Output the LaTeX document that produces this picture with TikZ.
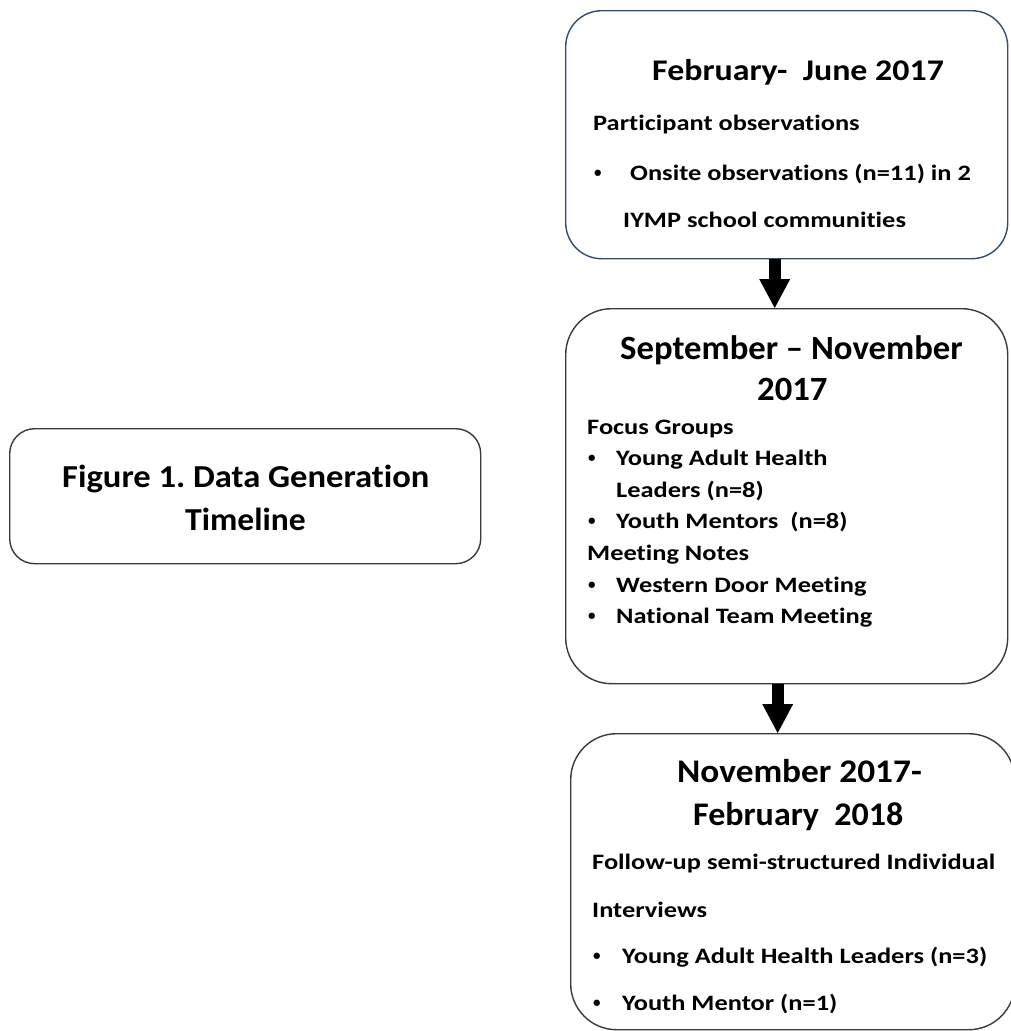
\documentclass[tikz,border=0pt]{standalone}
\usepackage{fontspec}
\setmainfont{Carlito}[RawFeature=-liga]
\usepackage{graphicx}
\usetikzlibrary{positioning,arrows.meta,calc}
\usepackage{xcolor}
\definecolor{navyline}{HTML}{3A4A6B}
\definecolor{darkline}{HTML}{3A3A3A}
\frenchspacing
% Word set the text a little wider than Carlito
\newcommand{\wider}[2]{\scalebox{#1}[1]{#2}}
\newcommand{\dotmark}{\raisebox{3pt}{\fontsize{15}{15}\selectfont •}}

\begin{document}
\begin{tikzpicture}[x=1pt,y=-1pt,
  stagebox/.style={draw=darkline,line width=1.4pt,inner sep=0pt,anchor=north west},
  fatarrow/.style={line width=12pt,-{Triangle[width=31pt,length=29pt,line width=0pt]}},
  hd/.style={anchor=base west,inner sep=0pt,font=\bfseries\fontsize{#1}{#1}\selectfont},
  tx/.style={anchor=base west,inner sep=0pt,font=\bfseries\fontsize{22}{22}\selectfont}]
\useasboundingbox (0,0) rectangle (1010,1031);
% boxes
\node (lbox) [stagebox,rounded corners=25pt,minimum width=471pt,minimum height=135pt] at (9,428) {};
\node (box1) [stagebox,draw=navyline,rounded corners=36pt,minimum width=442pt,minimum height=248pt] at (565,10) {};
\node (box2) [stagebox,rounded corners=46pt,minimum width=442pt,minimum height=375pt] at (565,308) {};
\node (box3) [stagebox,rounded corners=46pt,minimum width=444pt,minimum height=296pt] at (570,733) {};
% arrows
\draw[fatarrow] ([xshift=-12pt]box1.south) -- ([xshift=-12pt]box1.south |- box2.north);
\draw[fatarrow] ([xshift=-9pt]box2.south) -- ([xshift=-9pt]box2.south |- box3.north);
% figure title
\node (fig1) [hd=32] at (62,487) {\wider{1.08}{Figure 1. Data Generation}};
\node (fig2) [hd=32] at (185,530) {\wider{1.05}{Timeline}};
% first stage
\node (p1) [hd=30] at (652,80) {\wider{1.13}{February-\ \ June 2017}};
\node (p2) [tx] at (593,130) {\wider{1.2}{Participant observations}};
\node (p3b) [tx] at (594,180) {\dotmark};
\node (p3) [tx] at (630,180) {\wider{1.2}{Onsite observations (n=11) in 2}};
\node (p4) [tx] at (623,227) {\wider{1.2}{IYMP school communities}};
% second stage
\node (s1) [hd=34] at (620,359) {\wider{1.02}{September – November}};
\node (s2) [hd=34] at (757,400) {\wider{1.02}{2017}};
\node (s3) [tx] at (587,434) {\wider{1.2}{Focus Groups}};
\node (s4b) [tx] at (588,465) {\dotmark};
\node (s4) [tx] at (616,465) {\wider{1.2}{Young Adult Health}};
\node (s5) [tx] at (616,497) {\wider{1.2}{Leaders (n=8)}};
\node (s6b) [tx] at (588,528) {\dotmark};
\node (s6) [tx] at (616,528) {\wider{1.2}{Youth Mentors\ \ (n=8)}};
\node (s7) [tx] at (587,560) {\wider{1.2}{Meeting Notes}};
\node (s8b) [tx] at (588,592) {\dotmark};
\node (s8) [tx] at (616,592) {\wider{1.2}{Western Door Meeting}};
\node (s9b) [tx] at (588,623) {\dotmark};
\node (s9) [tx] at (616,623) {\wider{1.2}{National Team Meeting}};
% third stage
\node (n1) [hd=33] at (677,782) {\wider{1.07}{November 2017-}};
\node (n2) [hd=33] at (693,825) {\wider{1.03}{February\ \ 2018}};
\node (n3) [tx] at (592,869) {\wider{1.2}{Follow-up semi-structured Individual}};
\node (n4) [tx] at (592,917) {\wider{1.2}{Interviews}};
\node (n5b) [tx] at (593,963) {\dotmark};
\node (n5) [tx] at (622,963) {\wider{1.2}{Young Adult Health Leaders (n=3)}};
\node (n6b) [tx] at (593,1010) {\dotmark};
\node (n6) [tx] at (622,1010) {\wider{1.2}{Youth Mentor (n=1)}};
\end{tikzpicture}
\end{document}
